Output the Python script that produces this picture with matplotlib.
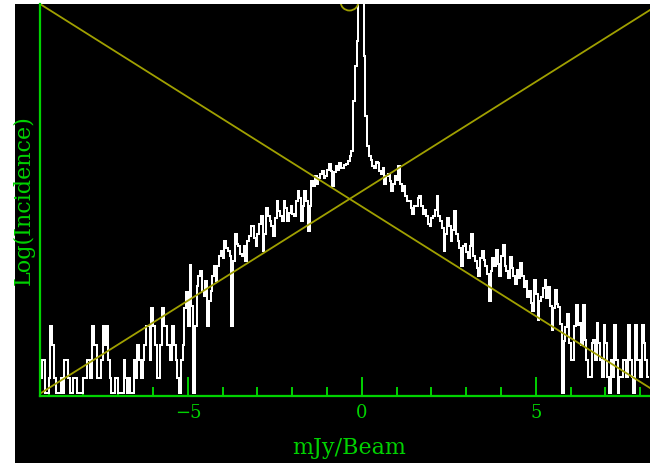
import numpy as np
import matplotlib
matplotlib.use("Agg")
import matplotlib.pyplot as plt
from matplotlib.patches import Rectangle

# ---- data ----
bin_start = -9.25      # mJy/Beam, left edge of first bin
bin_width = 0.05       # mJy/Beam
log_incidence = [
    0.18, 0.36, 0.36, 0.03, 0.03, 0.18, 0.70, 0.51, 0.18, 0.03,
    0.03, 0.03, 0.18, 0.03, 0.36, 0.36, 0.18, 0.03, 0.03, 0.18,
    0.18, 0.03, 0.03, 0.03, 0.03, 0.18, 0.18, 0.36, 0.36, 0.18,
    0.70, 0.51, 0.51, 0.18, 0.18, 0.36, 0.70, 0.51, 0.70, 0.36,
    0.18, 0.03, 0.03, 0.18, 0.18, 0.03, 0.03, 0.03, 0.36, 0.18,
    0.03, 0.18, 0.03, 0.03, 0.36, 0.18, 0.51, 0.36, 0.18, 0.36,
    0.51, 0.70, 0.70, 0.36, 0.88, 0.70, 0.51, 0.18, 0.18, 0.51,
    0.88, 0.70, 0.70, 0.51, 0.51, 0.36, 0.70, 0.51, 0.36, 0.18,
    0.03, 0.36, 0.51, 0.88, 1.04, 0.70,
    # -5 .. 0
    1.31, 0.90, 0.03, 0.70, 1.10, 1.20, 1.25, 1.05, 1.00, 1.15,
    0.70, 0.95, 1.05, 1.20, 1.30, 1.15, 1.30, 1.40, 1.45, 1.38,
    1.55, 1.48, 1.45, 1.40, 0.70, 1.35, 1.62, 1.52, 1.50, 1.42,
    1.40, 1.50, 1.35, 1.55, 1.60, 1.70, 1.70, 1.58, 1.50, 1.62,
    1.72, 1.80, 1.45, 1.62, 1.88, 1.80, 1.75, 1.70, 1.60, 1.78,
    1.95, 1.85, 1.80, 1.75, 1.95, 1.88, 1.75, 1.83, 1.90, 1.82,
    1.80, 1.95, 2.05, 1.98, 1.75, 1.90, 2.05, 1.95, 1.65, 1.90,
    2.15, 2.10, 2.20, 2.12, 2.18, 2.22, 2.25, 2.18, 2.20, 2.26,
    2.32, 2.25, 2.10, 2.24, 2.30, 2.26, 2.33, 2.28, 2.28, 2.31,
    2.32, 2.35, 2.40, 2.45, 2.95, 3.30, 3.55, 4.20,
    # peak and right wing
    4.60, 4.40, 3.40, 2.80, 2.50, 2.40, 2.36, 2.30, 2.28, 2.34,
    2.33, 2.25, 2.22, 2.28, 2.12, 2.20, 2.22, 2.15, 2.05, 2.12,
    2.20, 2.16, 2.30, 2.12, 2.05, 2.10, 2.00, 1.95, 1.95, 1.88,
    1.82, 1.90, 1.90, 1.98, 2.00, 1.90, 1.82, 1.86, 1.80, 1.72,
    1.70, 1.78, 1.80, 1.86, 2.00, 1.80, 1.75, 1.68, 1.45, 1.62,
    1.78, 1.70, 1.55, 1.66, 1.85, 1.62, 1.55, 1.48, 1.30, 1.50,
    1.52, 1.44, 1.38, 1.50, 1.62, 1.40, 1.35, 1.28, 1.20, 1.38,
    1.45, 1.36, 1.30, 1.22, 0.95, 1.25, 1.38, 1.30, 1.46, 1.32,
    1.20, 1.40, 1.51, 1.30, 1.25, 1.18, 1.39, 1.28, 1.20, 1.12,
    1.26, 1.18, 1.33, 1.20, 1.09, 1.15, 0.99, 1.05, 0.93, 0.85,
    1.16, 1.02, 0.76, 0.95, 0.99, 1.08, 1.16, 0.98, 1.09, 0.90,
    0.66, 0.88, 1.06, 0.92, 0.89, 0.72, 0.03, 0.55, 0.69, 0.82,
    0.53, 0.36, 0.36, 0.70, 0.91, 0.71, 0.73, 0.51, 0.91, 0.56,
    0.36, 0.19, 0.19, 0.53, 0.56, 0.36, 0.73, 0.53, 0.36, 0.19,
    0.71, 0.53, 0.19, 0.03, 0.36, 0.19, 0.71, 0.36, 0.03, 0.19,
    0.19, 0.36, 0.36, 0.19, 0.71, 0.36, 0.19, 0.03, 0.71, 0.36,
    0.36, 0.19, 0.71, 0.53, 0.36, 0.19,
]
# two straight reference lines (mJy/Beam, log incidence)
fit_down_x = [-9.25, 8.28]
fit_down_y = [3.92, 0.08]
fit_up_x = [-9.22, 8.28]
fit_up_y = [0.03, 3.86]
marker_x = [-0.37]
marker_y = [3.95]

xticks_major = [-5, 0, 5]
xticks_minor = [-9, -8, -7, -6, -4, -3, -2, -1, 1, 2, 3, 4, 6, 7, 8]

# ---- figure ----
W, H = 650, 463
fig = plt.figure(figsize=(W / 100, H / 100), dpi=100, facecolor="white")
fig.patches.append(Rectangle((15 / W, 0), 1 - 15 / W, 1 - 4 / H,
                             transform=fig.transFigure, facecolor="black",
                             edgecolor="none", zorder=-10))

green = "#00d200"
yellow = "#a0a000"
font = "DejaVu Serif"

ax = fig.add_axes([40 / W, (H - 396) / H, (650 - 40) / W, (396 - 4) / H])
ax.set_facecolor("black")

edges = bin_start + bin_width * np.arange(len(log_incidence) + 1)
ax.stairs(log_incidence, edges, color="white", lw=1.3, baseline=None,
          zorder=3, antialiased=False)

ax.plot(fit_down_x, fit_down_y, color=yellow, lw=1.3, zorder=4)
ax.plot(fit_up_x, fit_up_y, color=yellow, lw=1.3, zorder=4)
ax.plot(marker_x, marker_y, "o", mfc="none", mec=yellow, ms=13, mew=1.3, zorder=4)

ax.set_xlim(-9.25, 8.28)
ax.set_ylim(0, 3.92)

for s in ["top", "right"]:
    ax.spines[s].set_visible(False)
for s in ["left", "bottom"]:
    ax.spines[s].set_color(green)
    ax.spines[s].set_linewidth(1.6)
    ax.spines[s].set_zorder(5)

ax.set_xticks(xticks_major)
ax.set_xticklabels([f"{t:d}".replace("-", "\u2212") for t in xticks_major])
ax.set_xticks(xticks_minor, minor=True)
ax.tick_params(axis="x", which="major", direction="in", length=13.5, width=1.4,
               color=green, labelcolor=green, labelsize=13, pad=6)
ax.tick_params(axis="x", which="minor", direction="in", length=6.5, width=1.4,
               color=green)
for lab in ax.get_xticklabels():
    lab.set_family(font)
ax.set_yticks([])

ax.set_xlabel("mJy/Beam", color=green, fontsize=16, family=font)
ax.xaxis.set_label_coords((349 - 40) / 610, -(437 - 396) / 392)
ax.set_ylabel("Log(Incidence)", color=green, fontsize=16, family=font)
ax.yaxis.set_label_coords(-(40 - 35) / 610, 0.5)

fig.savefig("out.png", dpi=100, facecolor=fig.get_facecolor())
